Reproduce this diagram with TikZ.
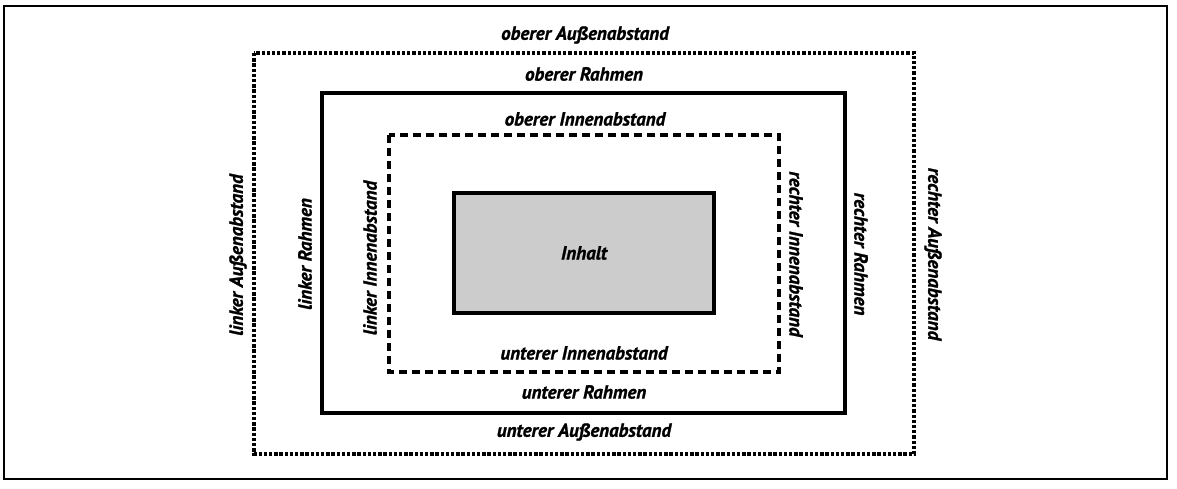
\documentclass[tikz,border=0pt]{standalone}
\usepackage{fontspec}
\setmainfont{PT Sans}
\newfontfamily\lblfont{PT Sans}[FakeBold=1.2]
\begin{document}
\begin{tikzpicture}[x=1pt,y=-1pt,
  lbl/.style={font=\lblfont\fontsize{19}{22}\selectfont\bfseries\itshape, inner sep=0pt},
  dotbox/.style={line width=3.3pt, dash pattern=on 3.3pt off 1.9pt},
  dashbox/.style={line width=3.2pt, dash pattern=on 8pt off 5pt},
  solidbox/.style={line width=4pt},
  contentbox/.style={line width=4pt, fill=black!20}]
\useasboundingbox (0,0) rectangle (1177,488);
\draw[line width=1.2pt] (4,6) rectangle (1167,479);
\draw[dotbox] (254,53) rectangle (914,454);
\draw[solidbox] (322,93) rectangle (845,413);
\draw[dashbox] (389,135) rectangle (779,372);
\draw[contentbox] (454,193) rectangle (714,313);
\node[lbl] (inhalt) at (584,253) {Inhalt};
\node[lbl] (oa) at (585,35) {oberer Außenabstand};
\node[lbl] (or) at (584,74) {oberer Rahmen};
\node[lbl] (oi) at (585,119) {oberer Innenabstand};
\node[lbl] (ui) at (584,353) {unterer Innenabstand};
\node[lbl] (ur) at (584,392) {unterer Rahmen};
\node[lbl] (ua) at (584,432) {unterer Außenabstand};
\node[lbl,rotate=90] (la) at (238,255) {linker Außenabstand};
\node[lbl,rotate=90] (lr) at (305,254) {linker Rahmen};
\node[lbl,rotate=90] (li) at (370,258) {linker Innenabstand};
\node[lbl,rotate=-90] (ri) at (796,254) {rechter Innenabstand};
\node[lbl,rotate=-90] (rr) at (861,254) {rechter Rahmen};
\node[lbl,rotate=-90] (ra) at (933,254) {rechter Außenabstand};
\end{tikzpicture}
\end{document}
